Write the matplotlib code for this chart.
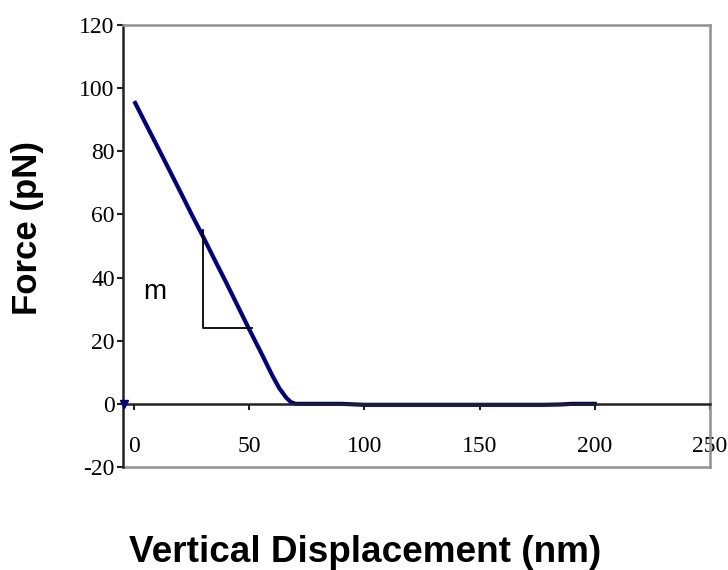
import numpy as np
import matplotlib.pyplot as plt

# displacement (nm) and force (pN)
displacement = [0.5, 5, 10, 15, 20, 25, 30, 35, 40, 45, 50, 55, 60, 63, 66, 68, 70,
                80, 90, 100, 110, 120, 130, 140, 150, 160, 170, 178, 185, 190, 200]
force = [95.3, 88.8, 81.7, 74.5, 67.3, 60.0, 52.9, 45.6, 38.4, 31.0, 23.6, 16.4, 9.0,
         5.0, 2.0, 0.6, 0.0,
         0.0, 0.0, -0.3, -0.3, -0.3, -0.3, -0.3, -0.3, -0.3, -0.3, -0.3, -0.2, 0.0, 0.0]

# slope triangle
tri_x = [30, 30, 51]
tri_y = [55, 24, 24]

x_ticks = [0, 50, 100, 150, 200, 250]
y_ticks = [-20, 0, 20, 40, 60, 80, 100, 120]

fig = plt.figure(figsize=(7.28, 5.7), dpi=100)
ax = fig.add_axes([123 / 728, 1 - 467 / 570, (710 - 123) / 728, (467 - 25) / 570])

# move the x axis up to y=0 first, it resets the ticks
ax.spines['bottom'].set_position(('data', 0))

ax.plot(displacement, force, color='#000080', linewidth=3.0, zorder=2)
ax.plot([-4.2], [0], marker='v', color='#000080', markersize=6, clip_on=False, zorder=3)
ax.plot(tri_x, tri_y, color='black', linewidth=1.3)
ax.text(9.1, 35.5, 'm', fontsize=20, family='Liberation Sans', ha='center', va='center')

ax.set_xlim(-4.8, 250)
ax.set_ylim(-20, 120)
ax.set_xticks(x_ticks)
ax.set_yticks(y_ticks)

tick_font = 'Liberation Serif'
ax.set_xticklabels([str(t) for t in x_ticks], fontsize=17, family=tick_font)
ax.set_yticklabels([str(t) for t in y_ticks], fontsize=17, family=tick_font)

ax.spines['bottom'].set_color('#222222')
ax.spines['bottom'].set_linewidth(1.8)
ax.spines['left'].set_color('#222222')
ax.spines['left'].set_linewidth(1.8)
ax.spines['top'].set_color('#909090')
ax.spines['top'].set_linewidth(1.8)
ax.spines['right'].set_color('#909090')
ax.spines['right'].set_linewidth(1.8)
ax.axhline(-20, color='#909090', linewidth=1.8, clip_on=False)

ax.tick_params(axis='x', direction='out', length=4, width=1.5, color='#222222', pad=19)
ax.tick_params(axis='y', direction='out', length=4, width=1.5, color='#222222', pad=2)

fig.text(27 / 728, 1 - 228 / 570, 'Force (pN)', rotation=90, fontsize=25, fontweight='bold',
         family='Liberation Sans', ha='center', va='center')
fig.text(365 / 728, 1 - 552 / 570, 'Vertical Displacement (nm)', fontsize=26.6, fontweight='bold',
         family='Liberation Sans', ha='center', va='center')

fig.savefig('out.png', dpi=100)
